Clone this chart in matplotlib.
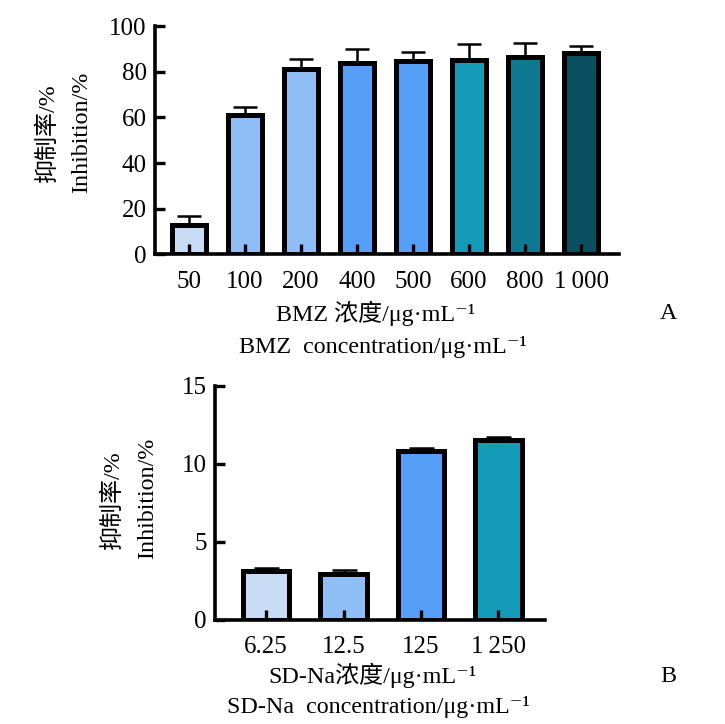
import matplotlib
matplotlib.use('Agg')
import matplotlib.pyplot as plt
import numpy as np

plt.rcParams['font.family'] = ['Liberation Serif', 'Noto Sans CJK SC', 'DejaVu Serif']

# panel A
bmz_labels = ['50', '100', '200', '400', '500', '600', '800', '1\u2009000']
bmz_inhib = [12.7, 61.2, 81.3, 83.8, 84.5, 85.0, 86.4, 88.2]
bmz_err = [4.0, 3.2, 4.3, 6.0, 4.0, 7.2, 6.2, 2.9]
bmz_colors = ['#c8dcf6', '#8fbdf5', '#8fbdf5', '#559ff8', '#559ff8',
              '#149bb8', '#0e7a92', '#0a4f60']

# panel B
sd_labels = ['6.25', '12.5', '125', '1\u2009250']
sd_inhib = [3.1, 2.92, 10.8, 11.5]
sd_err = [0.2, 0.3, 0.2, 0.2]
sd_colors = ['#c8dcf6', '#8fbdf5', '#559ff8', '#149bb8']

fig = plt.figure(figsize=(7.25, 7.24), dpi=100)


def draw(ax, labels, vals, errs, colors, ymax, step, capsize, xlim):
    x = np.arange(len(vals))
    ax.errorbar(x, vals, yerr=[np.zeros(len(errs)), errs], fmt='none',
                ecolor='black', elinewidth=1.8, capsize=capsize, capthick=1.8, zorder=1)
    ax.bar(x, vals, width=0.6, color=colors, edgecolor='black', linewidth=3.6, zorder=2)
    ax.set_xlim(*xlim)
    ax.set_ylim(0, ymax)
    ax.set_yticks(np.arange(0, ymax + 0.1, step))
    ax.set_xticks(x)
    ax.set_xticklabels(labels)
    for s in ['top', 'right']:
        ax.spines[s].set_visible(False)
    for s in ['left', 'bottom']:
        ax.spines[s].set_linewidth(2.6)
    ax.tick_params(axis='both', direction='in', length=7, width=2.4, labelsize=18)
    ax.tick_params(axis='x', pad=12)
    ax.tick_params(axis='y', pad=6)
    ax.set_axisbelow(False)


ax1 = fig.add_axes([0.214, 0.6485, 0.64, 0.3155])
draw(ax1, bmz_labels, bmz_inhib, bmz_err, bmz_colors, 100, 20, 8.5, (-0.6, 7.68))

ax2 = fig.add_axes([0.2966, 0.144, 0.455, 0.323])
draw(ax2, sd_labels, sd_inhib, sd_err, sd_colors, 15, 5, 9, (-0.66, 3.6))

fs = 17.3
unit = '/μg·mL⁻¹'
# y labels
fig.text(48/725, 1-133/724, '抑制率/%', rotation=90, ha='center', va='center', fontsize=fs)
fig.text(82/725, 1-132/724, 'Inhibition/%', rotation=90, ha='center', va='center', fontsize=fs)
fig.text(113/725, 1-500/724, '抑制率/%', rotation=90, ha='center', va='center', fontsize=fs)
fig.text(148/725, 1-498/724, 'Inhibition/%', rotation=90, ha='center', va='center', fontsize=fs)

# x labels
fig.text(376/725, 1-313/724, 'BMZ 浓度' + unit, ha='center', va='center', fontsize=fs)
fig.text(383/725, 1-347/724, 'BMZ  concentration' + unit, ha='center', va='center', fontsize=fs)
fig.text(668/725, 1-314/724, 'A', ha='center', va='center', fontsize=fs)

fig.text(372/725, 1-675/724, 'SD-Na浓度' + unit, ha='center', va='center', fontsize=fs)
fig.text(378/725, 1-707/724, 'SD-Na  concentration' + unit, ha='center', va='center', fontsize=fs)
fig.text(668/725, 1-676/724, 'B', ha='center', va='center', fontsize=fs)

fig.savefig('out.png', dpi=100)
